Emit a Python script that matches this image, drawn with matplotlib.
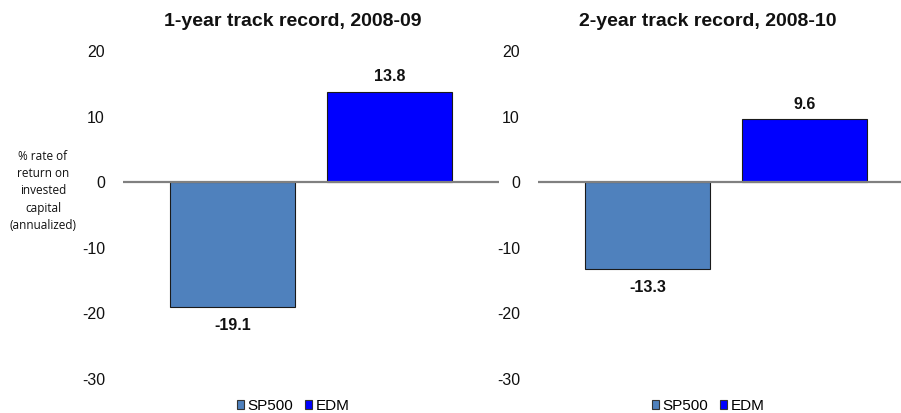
import matplotlib
matplotlib.use("Agg")
import matplotlib.pyplot as plt

plt.rcParams['font.family'] = ['Liberation Sans', 'DejaVu Sans']

series = ["SP500", "EDM"]
colors = ["#4F81BD", "#0000FF"]
titles = ["1-year track record, 2008-09", "2-year track record, 2008-10"]
returns_1yr = [-19.1, 13.8]
returns_2yr = [-13.3, 9.6]
yticks = [20, 10, 0, -10, -20, -30]
ylabel = "% rate of\nreturn on\ninvested\ncapital\n(annualized)"

W, H = 901, 413
fig = plt.figure(figsize=(W / 100, H / 100), dpi=100)

def px(x0, y_top, w, h):
    return [x0 / W, 1 - (y_top + h) / H, w / W, h / H]

panels = [
    (returns_1yr, titles[0], 123, 293),
    (returns_2yr, titles[1], 538, 708),
]

bar_w = 0.796
for values, title, x0, cx in panels:
    ax = fig.add_axes(px(x0, 51, 376, 328))
    ax.set_xlim(-0.698, 1.698)
    ax.set_ylim(-30, 20)
    ax.bar(range(len(series)), values, width=bar_w, color=colors,
           edgecolor="#1a1a1a", linewidth=0.8, label=series, zorder=2)
    ax.axhline(0, color="#808080", linewidth=1.6, zorder=3)
    for i, v in enumerate(values):
        off = 2.3 if v > 0 else -2.8
        ax.text(i, v + off, f"{v:.1f}", ha="center", va="center",
                fontsize=11.5, fontweight="bold", color="#111111")
    for s in ax.spines.values():
        s.set_visible(False)
    ax.set_xticks([])
    ax.set_yticks(yticks)
    ax.set_yticklabels([str(t) for t in yticks], fontsize=11.5, color="#111111")
    ax.tick_params(axis="y", length=0, pad=13)
    fig.text(cx / W, 1 - 22 / H, title, ha="center", va="center",
             fontsize=14, fontweight="bold", color="#111111")
    handles = [plt.Rectangle((0, 0), 1, 1, facecolor=c, edgecolor="#333333",
                             linewidth=0.8) for c in colors]
    ax.legend(handles, series, loc="center", ncol=2, frameon=False,
              bbox_to_anchor=(cx / W, 1 - 406 / H),
              bbox_transform=fig.transFigure, fontsize=11,
              handlelength=0.48, handleheight=0.48, handletextpad=0.2,
              columnspacing=0.8, borderpad=0)

fig.text(43 / W, 1 - 191 / H, ylabel, ha="center", va="center",
         fontsize=8.5, family=["Open Sans", "DejaVu Sans"], linespacing=1.42,
         color="#111111")

fig.savefig("out.png", dpi=100)
